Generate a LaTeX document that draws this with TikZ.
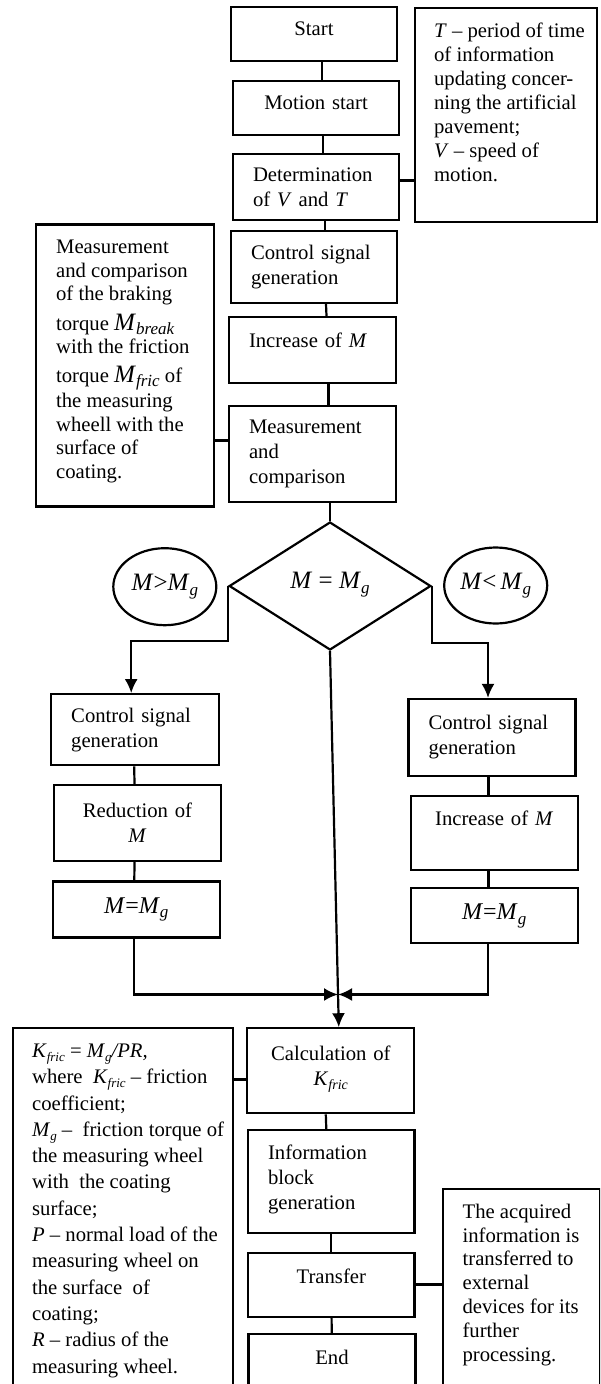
\documentclass[tikz,border=0pt]{standalone}
\usepackage{fontspec}
\setmainfont{Liberation Serif}
\usetikzlibrary{shapes,arrows.meta,positioning,calc}

% depth filler to push a box text upwards
\newcommand{\lift}[1]{\rule[-#1]{0pt}{#1}}
% italic subscript
\newcommand{\sbs}[2][14]{\raisebox{-0.2em}{\fontsize{#1}{#1}\selectfont\textit{#2}}}

\begin{document}
\begin{tikzpicture}[x=1pt,y=-1pt,>={Latex[length=14pt,width=13pt]},line width=2.2pt,font=\fontsize{20.7}{25}\selectfont]
\tikzstyle{blk}=[draw,inner xsep=20pt,inner ysep=0pt,align=left]
\tikzstyle{note}=[draw,inner sep=0pt,anchor=north west]
\tikzstyle{link}=[line width=3pt]
\tikzstyle{big}=[font=\fontsize{25}{25}\selectfont]

\useasboundingbox (0,0) rectangle (600,1384);
\clip (0,0) rectangle (600,1384);

% main column
\node[blk,text width=126pt,minimum height=54pt,align=center] (start) at (314,34) {Start\lift{10pt}};
\node[blk,text width=126pt,minimum height=54pt,align=center] (motion) at (316,108) {Motion start\lift{10pt}};
\node[blk,text width=126pt,minimum height=66pt] (determ) at (316,187) {Determination\\of \textit{V} and \textit{T}};
\node[blk,text width=126pt,minimum height=72pt] (ctrl) at (314,267) {Control signal\\generation};
\node[blk,text width=127pt,minimum height=66pt] (incr) at (312.5,350) {Increase of \textit{M}\lift{20pt}};
\node[blk,text width=127pt,minimum height=96pt] (meas) at (312.5,454) {Measurement\\and\\comparison};

% notes
\node[note,font=\fontsize{20.7}{24}\selectfont] (noteT) at (414,7) {\parbox[t][214pt][t]{182pt}{\leftskip=19pt\rightskip=0pt plus 1fil\parindent=0pt\vspace*{15pt}%
\textit{T} -- period of time\\
of information\\
updating concer-\\
ning the artificial\\
pavement;\\
\textit{V} -- speed of\\
motion.}};
\node[note,font=\fontsize{20.7}{23.5}\selectfont] (noteM) at (35,223.3) {\parbox[t][282pt][t]{178pt}{\leftskip=20pt\rightskip=0pt plus 1fil\parindent=0pt\vspace*{16pt}%
Measurement\\
and comparison\\
of the braking\\[6pt]
torque {\fontsize{25}{23.5}\selectfont\textit{M}}\sbs[17]{break}\\
with the friction\\[5pt]
torque {\fontsize{25}{23.5}\selectfont\textit{M}}\sbs[17]{fric} of\\[2pt]
the measuring\\
wheell with the\\
surface of\\
coating.}};

% decision
\node[draw,diamond,big,minimum width=201.7pt,minimum height=128pt,inner sep=0pt] (dia) at (330,586) {\textit{M} = \textit{M}\sbs[17]{g}\lift{12pt}};
\node[draw,ellipse,big,minimum width=103pt,minimum height=77pt,inner sep=0pt] (gtr) at (164.8,586.7) {\makebox[0pt]{\textit{M}>\textit{M}\sbs[17]{g}}};
\node[draw,ellipse,big,minimum width=103pt,minimum height=76pt,inner sep=0pt] (lss) at (495.7,585.5) {\makebox[0pt]{\textit{M}<\,\textit{M}\sbs[17]{g}}};

% left branch
\node[blk,text width=128pt,minimum height=71pt] (ctrlL) at (135.2,729.7) {Control signal\\generation};
\node[blk,text width=127pt,minimum height=76pt,align=center] (redL) at (137.5,823) {Reduction of\\\textit{M}};
\node[blk,text width=127pt,minimum height=56pt,align=center] (eqL) at (136.3,909.5) {{\fontsize{24}{25}\selectfont\textit{M}=\textit{M}\sbs[17]{g}}};

% right branch
\node[blk,text width=127pt,minimum height=77pt] (ctrlR) at (492,737.5) {Control signal\\generation};
\node[blk,text width=127pt,minimum height=74pt,align=center] (incR) at (494.2,832.8) {Increase of \textit{M}\lift{30pt}};
\node[blk,text width=127pt,minimum height=55pt,align=center] (eqR) at (494.2,915.8) {{\fontsize{24}{25}\selectfont\textit{M}=\textit{M}\sbs[17]{g}}};

% lower column
\node[blk,text width=127pt,minimum height=85pt,align=center] (calc) at (330.8,1070.8) {Calculation of\\\textit{K}\sbs{fric}\lift{10pt}};
\node[blk,text width=126.5pt,minimum height=103pt] (info) at (331.3,1181.7) {Information\\block\\generation\lift{10pt}};
\node[blk,text width=126.5pt,minimum height=64pt,align=center] (transfer) at (331.3,1284.7) {Transfer\lift{18pt}};
\node[blk,text width=127pt,minimum height=60pt,align=center] (end) at (332,1364) {End\lift{14pt}};

\node[note,font=\fontsize{20.7}{26.3}\selectfont] (formula) at (11.5,1026.7) {\parbox[t][370pt][t]{220pt}{\leftskip=19.5pt\rightskip=0pt plus 1fil\parindent=0pt\vspace*{16pt}%
\textit{K}\sbs[13]{fric} = \textit{M}\sbs[13]{g}\textit{/PR,}\\
where~ \textit{K}\sbs[13]{fric} -- friction\\
coefficient;\\
\textit{M}\sbs[13]{g} -- ~friction torque of\\
the measuring wheel\\
with ~the coating\\
surface;\\
\textit{P} -- normal load of the\\
measuring wheel on\\
the surface ~of\\
coating;\\
\textit{R} -- radius of the\\
measuring wheel.}};
\node[note,font=\fontsize{20.7}{23.9}\selectfont] (noteR) at (441.5,1187.7) {\parbox[t][210pt][t]{157.3pt}{\leftskip=20pt\rightskip=0pt plus 1fil\parindent=0pt\vspace*{15pt}%
The acquired\\
information is\\
transferred to\\
external\\
devices for its\\
further\\
processing.}};

% connectors
\draw ([xshift=8pt]start.south) -- ([xshift=6pt]motion.north);
\draw ([xshift=7pt]motion.south) -- ([xshift=7pt]determ.north);
\draw ([xshift=9pt]determ.south) -- ([xshift=11pt]ctrl.north);
\draw ([xshift=12pt]ctrl.south) -- ([xshift=14pt]incr.north);
\draw ([xshift=16pt]incr.south) -- ([xshift=16pt]meas.north);
\draw ([xshift=17.5pt]meas.south) -- (dia.north);

\draw[link] ([yshift=7pt]determ.east) -- ([yshift=7pt]determ.east -| noteT.west);
\draw[link] ([yshift=14pt]meas.west) -- ([yshift=14pt]meas.west -| noteM.east);
\draw[link] ([yshift=-9pt]calc.west) -- ([yshift=-9pt]calc.west -| formula.east);
\draw[link] (transfer.east) -- (transfer.east -| noteR.west);

\draw[->] (dia.west) -- ++(0,55) -| ([xshift=-4pt]ctrlL.north);
\draw[->] (dia.east) -- ++(0,57) -| ([xshift=-4pt]ctrlR.north);
\draw ([xshift=-1pt]ctrlL.south) -- ([xshift=-3pt]redL.north);
\draw ([xshift=-3pt]redL.south) -- ([xshift=-2pt]eqL.north);
\draw ([xshift=-3.5pt]ctrlR.south) -- ([xshift=-5.7pt]incR.north);
\draw ([xshift=-5.7pt]incR.south) -- ([xshift=-5.7pt]eqR.north);

\coordinate (hit) at ([xshift=8pt]calc.north);
\coordinate (join) at ($(dia.south)!0.913!(hit)$);
\draw[->] (dia.south) -- (hit);
\draw[->] ([xshift=-2pt]eqL.south) |- (join);
\draw[->] ([xshift=-6pt]eqR.south) |- (join);

\draw ([xshift=-5pt]calc.south) -- ([xshift=-5pt]info.north);
\path (info) edge (transfer)
  (transfer) edge (end);
\end{tikzpicture}
\end{document}
